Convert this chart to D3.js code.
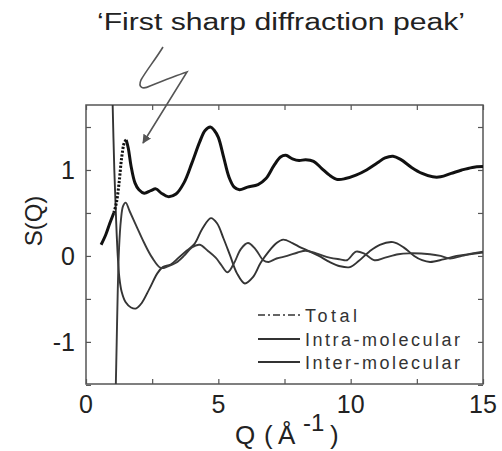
<!DOCTYPE html>
<html><head><meta charset="utf-8">
<script src="https://cdn.jsdelivr.net/npm/d3@7"></script>
<style>
html,body{margin:0;padding:0;background:#fff;}
svg{display:block;font-family:"Liberation Sans",Arial,sans-serif;}
</style></head>
<body>
<svg id="c" width="502" height="451"></svg>
<script>
// ---- data (Q in 1/Å, S(Q)) ----
const totalQ = [0.57,0.75,0.9,1.05,1.15,1.25,1.35,1.45,1.52,1.6,1.7,1.85,2.0,2.2,2.45,2.64,2.85,3.1,3.4,3.7,4.0,4.3,4.5,4.7,4.85,5.0,5.2,5.4,5.6,5.8,6.1,6.5,6.8,7.1,7.35,7.55,7.8,8.05,8.3,8.6,8.9,9.2,9.5,9.8,10.2,10.6,11.0,11.3,11.6,11.9,12.3,12.7,13.1,13.4,13.8,14.2,14.6,15.0];
const totalS = [0.13,0.25,0.38,0.5,0.62,0.85,1.15,1.32,1.35,1.25,1.05,0.85,0.77,0.73,0.76,0.78,0.73,0.69,0.72,0.85,1.08,1.33,1.46,1.5,1.46,1.38,1.15,0.92,0.8,0.77,0.8,0.83,0.9,1.05,1.15,1.17,1.13,1.11,1.12,1.1,1.02,0.94,0.89,0.9,0.94,1.0,1.08,1.14,1.16,1.12,1.03,0.96,0.92,0.92,0.96,1.0,1.03,1.04];

const intraQ = [1.0,1.07,1.14,1.2,1.26,1.35,1.5,1.7,1.9,2.1,2.4,2.7,2.9,3.2,3.5,3.8,4.1,4.4,4.72,4.95,5.2,5.45,5.7,6.0,6.3,6.6,6.9,7.2,7.45,7.8,8.1,8.4,8.8,9.2,9.6,9.97,10.3,10.7,11.1,11.6,12.0,12.4,12.7,13.0,13.5,14.0,14.5,15.0];
const intraS = [1.85,1.0,0.4,0.0,-0.25,-0.42,-0.54,-0.6,-0.61,-0.55,-0.38,-0.2,-0.13,-0.1,-0.02,0.06,0.14,0.32,0.44,0.38,0.2,0.0,-0.2,-0.32,-0.25,-0.08,0.05,0.15,0.19,0.15,0.1,0.06,0.0,-0.07,-0.12,-0.13,-0.06,0.05,0.13,0.16,0.1,0.0,-0.05,-0.07,-0.04,0.0,0.02,0.04];

const interQ = [1.12,1.16,1.2,1.25,1.32,1.4,1.5,1.65,1.9,2.2,2.5,2.83,3.1,3.4,3.7,4.0,4.3,4.6,4.9,5.1,5.35,5.6,5.85,6.12,6.4,6.7,6.9,7.2,7.6,8.0,8.3,8.7,9.2,9.6,9.86,10.2,10.5,10.9,11.3,11.8,12.2,13.0,13.4,13.75,14.2,14.6,15.0];
const interS = [-1.6,-1.0,-0.4,0.1,0.42,0.58,0.62,0.52,0.35,0.15,-0.02,-0.14,-0.12,-0.08,0.0,0.1,0.13,0.06,-0.02,-0.1,-0.19,-0.08,0.08,0.15,0.08,-0.05,-0.07,-0.03,0.0,0.04,0.06,0.03,-0.02,-0.04,-0.05,0.05,0.03,-0.05,-0.02,0.02,0.03,0.02,0.0,-0.03,0.0,0.03,0.05];

const xTicks = [0,5,10,15];
const yTicks = [-1,0,1];
const legendLabels = ["Total","Intra-molecular","Inter-molecular"];

// ---- layout ----
const svg = d3.select("#c");
const L=86, R=483, T=105, B=384;
const x = d3.scaleLinear().domain([0,15]).range([L,R]);
const y = d3.scaleLinear().domain([-1.49,1.756]).range([B,T]);
const frameCol = "#555";

svg.append("defs").append("clipPath").attr("id","clip")
  .append("rect").attr("x",L).attr("y",T).attr("width",R-L).attr("height",B-T);

// frame
svg.append("rect").attr("x",L).attr("y",T).attr("width",R-L).attr("height",B-T)
  .attr("fill","none").attr("stroke",frameCol).attr("stroke-width",1.5);

// axes with inward ticks
const minorX = d3.range(0,15.01,2.5), minorY = d3.range(-1.5,1.76,0.5);
const styleTicks = g=>{g.select(".domain").remove();g.selectAll("line").attr("stroke",frameCol).attr("stroke-width",1.2);};
svg.append("g").attr("transform",`translate(0,${B})`)
  .call(d3.axisTop(x).tickValues(minorX).tickSize(5).tickFormat("")).call(styleTicks);
svg.append("g").attr("transform",`translate(0,${T})`)
  .call(d3.axisBottom(x).tickValues(minorX).tickSize(5).tickFormat("")).call(styleTicks);
svg.append("g").attr("transform",`translate(${L},0)`)
  .call(d3.axisRight(y).tickValues(minorY).tickSize(5).tickFormat("")).call(styleTicks);
svg.append("g").attr("transform",`translate(${R},0)`)
  .call(d3.axisLeft(y).tickValues(minorY).tickSize(5).tickFormat("")).call(styleTicks);

// tick labels
svg.append("g").selectAll("text").data(xTicks).join("text")
  .attr("x",d=>x(d)).attr("y",413).attr("text-anchor","middle")
  .attr("font-size",25).attr("fill","#222").text(d=>d);
svg.append("g").selectAll("text").data(yTicks).join("text")
  .attr("x",75).attr("y",d=>y(d)+9).attr("text-anchor","end")
  .attr("font-size",25).attr("fill","#222").text(d=>d);

// axis titles
svg.append("text").attr("transform","translate(42,221) rotate(-90)")
  .attr("text-anchor","middle").attr("font-size",24).attr("fill","#222").text("S(Q)");
const xt = svg.append("text").attr("y",444).attr("font-size",26).attr("fill","#222");
xt.append("tspan").attr("x",235).text("Q");
xt.append("tspan").attr("x",264).text("(");
xt.append("tspan").attr("x",278).text("Å");
xt.append("tspan").attr("x",303).attr("dy",-13).attr("font-size",24).text("-1");
xt.append("tspan").attr("x",330).attr("dy",13).text(")");

// curves
const line = d3.line().x(d=>x(d[0])).y(d=>y(d[1])).curve(d3.curveCatmullRom.alpha(0.5));
const zip = (a,b)=>a.map((q,i)=>[q,b[i]]);
const total = zip(totalQ,totalS), intra = zip(intraQ,intraS), inter = zip(interQ,interS);
const cg = svg.append("g").attr("clip-path","url(#clip)");
cg.append("path").attr("d",line(intra)).attr("fill","none").attr("stroke","#333").attr("stroke-width",1.9);
cg.append("path").attr("d",line(inter)).attr("fill","none").attr("stroke","#3a3a3a").attr("stroke-width",1.9);
const tA = total.filter(d=>d[0]<=1.05), tB = total.filter(d=>d[0]>=1.05&&d[0]<=1.52), tC = total.filter(d=>d[0]>=1.52);
cg.append("path").attr("d",line(tA)).attr("fill","none").attr("stroke","#111").attr("stroke-width",3);
cg.append("path").attr("d",line(tB)).attr("fill","none").attr("stroke","#111").attr("stroke-width",3).attr("stroke-dasharray","2.2,1.6");
cg.append("path").attr("d",line(tC)).attr("fill","none").attr("stroke","#111").attr("stroke-width",3);

// legend
const lg = svg.append("g");
const rowsY = [315,339,362];
const dashes = ["7,3,2,3",null,null];
lg.selectAll("line").data(legendLabels).join("line")
  .attr("x1",258).attr("x2",300).attr("y1",(d,i)=>rowsY[i]).attr("y2",(d,i)=>rowsY[i])
  .attr("stroke","#333").attr("stroke-width",(d,i)=>i==0?1.3:2)
  .attr("stroke-dasharray",(d,i)=>dashes[i]);
const lens = [52,155,155];
lg.selectAll("text").data(legendLabels).join("text")
  .attr("x",305).attr("y",(d,i)=>rowsY[i]+7).attr("font-size",18).attr("fill","#333")
  .attr("textLength",(d,i)=>lens[i]).attr("lengthAdjust","spacing").text(d=>d);

// annotation
svg.append("text").attr("x",281).attr("y",30).attr("text-anchor","middle")
  .attr("font-size",23).attr("fill","#222").attr("textLength",368).attr("lengthAdjust","spacingAndGlyphs")
  .text("‘First sharp diffraction peak’");
svg.append("defs").append("marker").attr("id","ah").attr("viewBox","0 0 10 10")
  .attr("refX",9).attr("refY",5).attr("markerWidth",9).attr("markerHeight",9)
  .attr("orient","auto").attr("markerUnits","userSpaceOnUse")
  .append("path").attr("d","M0,0 L10,5 L0,10 z").attr("fill","#555");
svg.append("path")
  .attr("d","M163,47 C155,60 146,71 141,80 C138,87 142,90 150,86 C165,80 178,75 187,72 L143,143")
  .attr("fill","none").attr("stroke","#555").attr("stroke-width",1.6).attr("marker-end","url(#ah)");
</script>
</body></html>
